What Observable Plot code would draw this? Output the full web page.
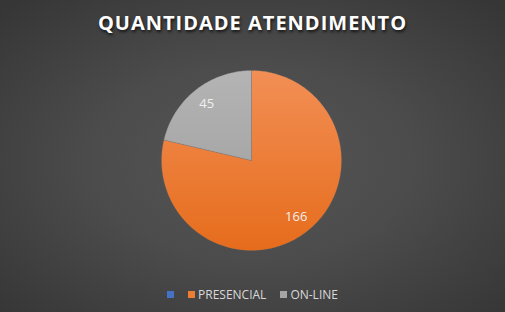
<!DOCTYPE html>
<html>
<head>
<meta charset="utf-8">
<script src="https://cdn.jsdelivr.net/npm/d3@7"></script>
<script src="https://cdn.jsdelivr.net/npm/@observablehq/plot@0.6"></script>
<style>
  html, body { margin: 0; padding: 0; }
  #chart {
    width: 505px; height: 312px; position: relative; overflow: hidden;
    background: radial-gradient(ellipse 70% 70% at 50% 52%, #555555 0%, #4c4c4c 45%, #363636 100%);
    font-family: "Open Sans", "DejaVu Sans", sans-serif;
  }
  #title {
    height: 44px; line-height: 45px; text-align: center; color: #ffffff;
    font-weight: 700; font-size: 20px; letter-spacing: 1px;
    text-shadow: 1px 2px 3px rgba(0,0,0,0.7);
  }
  #plot { position: absolute; left: 0; top: 50px; }
  #legend {
    position: absolute; left: 0; top: 284px; width: 505px; height: 20px;
    display: flex; justify-content: center; align-items: center; gap: 14px;
    color: #d9d9d9; font-size: 12px;
  }
  .item { display: flex; align-items: center; gap: 3px; }
  .sw { width: 7px; height: 7px; display: inline-block; }
</style>
</head>
<body>
<div id="chart">
  <div id="title">QUANTIDADE ATENDIMENTO</div>
  <div id="plot"></div>
  <div id="legend"></div>
</div>
<script>
const categories = ["", "PRESENCIAL", "ON-LINE"];
const values = [0, 166, 45];
const colorsTop = ["#5b86cf", "#f28f55", "#b4b4b4"];
const colorsBottom = ["#3d69b8", "#e66c1c", "#9b9b9b"];
const legendColors = ["#4472C4", "#ED7D31", "#A5A5A5"];

const rows = categories.map((c, i) => ({category: c, value: values[i], i}));
const arcs = d3.pie().sort(null).value(d => d.value)(rows);

// wedge outlines in unit-circle data space (angles from d3.pie)
const wedgePoints = [];
arcs.forEach(a => {
  if (a.endAngle - a.startAngle <= 0) return;
  const n = Math.max(2, Math.ceil((a.endAngle - a.startAngle) / (Math.PI / 180)));
  wedgePoints.push({key: a.data.i, px: 0, py: 0});
  for (let k = 0; k <= n; k++) {
    const t = a.startAngle + (a.endAngle - a.startAngle) * k / n;
    wedgePoints.push({key: a.data.i, px: Math.sin(t), py: Math.cos(t)});
  }
  wedgePoints.push({key: a.data.i, px: 0, py: 0});
});

const labels = arcs.filter(a => a.data.value > 0).map(a => {
  const m = (a.startAngle + a.endAngle) / 2;
  return {px: 0.8 * Math.sin(m), py: 0.8 * Math.cos(m), text: String(a.data.value)};
});

const defs = (index, scales) => {
  const ns = "http://www.w3.org/2000/svg";
  const d = document.createElementNS(ns, "defs");
  rows.forEach(r => {
    const g = document.createElementNS(ns, "linearGradient");
    g.setAttribute("id", "grad" + r.i);
    g.setAttribute("gradientUnits", "userSpaceOnUse");
    g.setAttribute("x1", 0); g.setAttribute("x2", 0);
    g.setAttribute("y1", scales.y(1)); g.setAttribute("y2", scales.y(-1));
    [["0%", colorsTop[r.i]], ["100%", colorsBottom[r.i]]].forEach(([o, c]) => {
      const s = document.createElementNS(ns, "stop");
      s.setAttribute("offset", o); s.setAttribute("stop-color", c);
      g.appendChild(s);
    });
    d.appendChild(g);
  });
  return d;
};

const wedgeMarks = arcs.filter(a => a.endAngle > a.startAngle).map(a =>
  Plot.line(wedgePoints.filter(p => p.key === a.data.i), {
    x: "px", y: "py", fill: "url(#grad" + a.data.i + ")",
    stroke: "#6a6a6a", strokeWidth: 0.4, strokeOpacity: 0.6
  })
);

const plot = Plot.plot({
  width: 505, height: 220,
  marginLeft: 161, marginRight: 164, marginTop: 20, marginBottom: 20,
  x: {domain: [-1, 1], axis: null},
  y: {domain: [-1, 1], axis: null},
  style: {background: "transparent", overflow: "visible"},
  marks: [
    defs,
    ...wedgeMarks,
    Plot.text(labels, {x: "px", y: "py", text: "text", fill: "#f0f0f0",
      fontSize: 13, fontFamily: "Open Sans, sans-serif"})
  ]
});
document.getElementById("plot").appendChild(plot);

const legend = document.getElementById("legend");
categories.forEach((c, i) => {
  const it = document.createElement("div");
  it.className = "item";
  const sw = document.createElement("span");
  sw.className = "sw"; sw.style.background = legendColors[i];
  it.appendChild(sw);
  if (c) { const t = document.createElement("span"); t.textContent = c; it.appendChild(t); }
  legend.appendChild(it);
});
</script>
</body>
</html>
